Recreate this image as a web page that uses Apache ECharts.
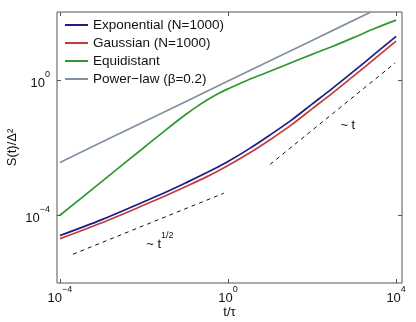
<!DOCTYPE html>
<html>
<head>
<meta charset="utf-8">
<script src="https://cdn.jsdelivr.net/npm/echarts@6/dist/echarts.min.js"></script>
<style>
  html, body { margin: 0; padding: 0; background: #fff; }
  #box { width: 416px; height: 322px; }
</style>
</head>
<body>
<div id="box"></div>
<script>
// all values are log10 exponents: x = log10(t/tau), y = log10(S(t)/Delta^2)
const seriesNames = ['Exponential (N=1000)', 'Gaussian (N=1000)', 'Equidistant', 'Power\u2212law (\u03b2=0.2)'];
const seriesColors = ['#1c1c86', '#c23b3b', '#2e9a2e', '#8091a3'];

const expData = [[-4,-4.6],[-3,-4.13],[-2,-3.6],[-1.5,-3.33],[-1,-3.04],[-0.5,-2.74],[0,-2.41],[0.5,-2.04],[1,-1.63],[1.5,-1.2],[2,-0.72],[2.5,-0.24],[3,0.26],[3.5,0.77],[4,1.28]];
const gaussData = [[-4,-4.69],[-3,-4.22],[-2,-3.7],[-1.5,-3.43],[-1,-3.15],[-0.5,-2.86],[0,-2.53],[0.5,-2.17],[1,-1.77],[1.5,-1.34],[2,-0.86],[2.5,-0.38],[3,0.12],[3.5,0.63],[4,1.14]];
const equiData = [[-4,-4],[-3,-3],[-2,-2],[-1.5,-1.5],[-1,-1.02],[-0.75,-0.8],[-0.5,-0.6],[-0.25,-0.42],[0,-0.27],[0.5,0.01],[1,0.25],[1.5,0.5],[2,0.75],[2.5,0.99],[3,1.25],[3.5,1.52],[4,1.76]];
const powerData = [[-4,-2.44],[-2,-1.24],[0,-0.04],[2,1.16],[3.4,2.0]];
const sqrtGuide = [[-3.69,-5.15],[-0.1,-3.35]];
const linGuide = [[1.0,-2.5],[3.98,0.5]];

const xTicks = [-4, 0, 4];
const yTicks = [-4, 0];

const box = document.getElementById('box');
const myChart = echarts.init(box);

function powLabel(v) {
  const e = v < 0 ? '\u2212' + Math.abs(v) : String(v);
  return '{b|10}{s|' + e + '}';
}
const labelRich = {
  b: { fontSize: 13, fontFamily: 'Liberation Sans', color: '#111', lineHeight: 20, verticalAlign: 'bottom' },
  s: { fontSize: 9, fontFamily: 'Liberation Sans', color: '#111', lineHeight: 20, verticalAlign: 'top' }
};
const tickStyle = { inside: true, length: 4, lineStyle: { color: '#555' } };

function xAxisCfg(pos, labels) {
  return {
    type: 'value', position: pos, min: -4.07, max: 4.14,
    axisLine: { show: false, onZero: false }, splitLine: { show: false },
    axisTick: Object.assign({ customValues: xTicks }, tickStyle),
    axisLabel: { show: labels, customValues: xTicks, formatter: powLabel, rich: labelRich, margin: 2 },
    name: labels ? 't/\u03c4' : '', nameLocation: 'middle', nameGap: 23, nameMoveOverlap: false,
    nameTextStyle: { fontSize: 13, fontFamily: 'Liberation Sans', color: '#111' }
  };
}
function yAxisCfg(pos, labels) {
  return {
    type: 'value', position: pos, min: -6, max: 2,
    axisLine: { show: false, onZero: false }, splitLine: { show: false },
    axisTick: Object.assign({ customValues: yTicks }, tickStyle),
    axisLabel: { show: labels, customValues: yTicks, formatter: powLabel, rich: labelRich, margin: 7 },
    name: labels ? 'S(t)/\u0394\u00b2' : '', nameLocation: 'middle', nameGap: 38, nameMoveOverlap: false,
    nameTextStyle: { fontSize: 13, fontFamily: 'Liberation Sans', color: '#111' }
  };
}

function lineSeries(name, data, color) {
  return {
    name: name, type: 'line', data: data, color: color,
    showSymbol: false, symbol: 'none', smooth: 0.3,
    lineStyle: { width: 1.7, color: color }, z: 3
  };
}

function textMark(coord, formatter) {
  return {
    symbol: 'rect', symbolSize: 1, itemStyle: { color: 'transparent' },
    data: [{ coord: coord,
      label: { show: true, position: 'inside', formatter: formatter,
        rich: {
          a: { fontSize: 13, fontFamily: 'Liberation Sans', color: '#111', lineHeight: 20, verticalAlign: 'bottom' },
          s: { fontSize: 9, fontFamily: 'Liberation Sans', color: '#111', lineHeight: 20, verticalAlign: 'top' }
        } } }]
  };
}

const option = {
  animation: false,
  grid: {
    left: 57, right: 14, top: 12, bottom: 39, containLabel: false, outerBoundsMode: 'none',
    show: true, borderColor: '#555', borderWidth: 1
  },
  legend: {
    data: seriesNames, orient: 'vertical', left: 60, top: 13,
    icon: 'rect', itemWidth: 23, itemHeight: 2, itemGap: 4,
    textStyle: { fontSize: 13.5, fontFamily: 'Liberation Sans', color: '#111', lineHeight: 13.5 }
  },
  xAxis: [xAxisCfg('bottom', true), xAxisCfg('top', false)],
  yAxis: [yAxisCfg('left', true), yAxisCfg('right', false)],
  series: [
    lineSeries(seriesNames[0], expData, seriesColors[0]),
    lineSeries(seriesNames[1], gaussData, seriesColors[1]),
    lineSeries(seriesNames[2], equiData, seriesColors[2]),
    lineSeries(seriesNames[3], powerData, seriesColors[3]),
    {
      name: 'sqrt', type: 'line', data: sqrtGuide, showSymbol: false, symbol: 'none',
      lineStyle: { color: '#111', width: 1, type: [4, 4] }, z: 2,
      markPoint: textMark([-1.62, -4.76], '{a|~ t}{s|1/2}')
    },
    {
      name: 'lin', type: 'line', data: linGuide, showSymbol: false, symbol: 'none',
      lineStyle: { color: '#111', width: 1, type: [4, 4] }, z: 2,
      markPoint: textMark([2.85, -1.25], '{a|~ t}')
    }
  ]
};
myChart.setOption(option);
window.onresize = function () {
  myChart.resize();
};
</script>
</body>
</html>
